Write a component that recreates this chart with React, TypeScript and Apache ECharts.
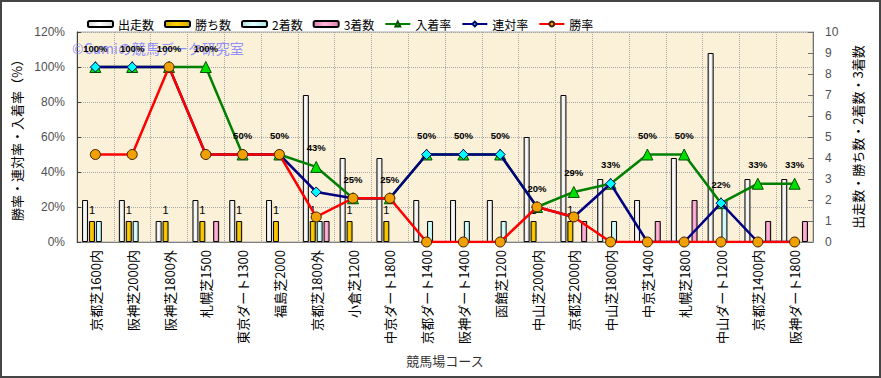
import React, { useEffect, useRef } from "react";
import * as echarts from "echarts";

const categories = [
  "京都芝1600内", "阪神芝2000内", "阪神芝1800外", "札幌芝1500", "東京ダート1300",
  "福島芝2000", "京都芝1800外", "小倉芝1200", "中京ダート1800", "京都ダート1400",
  "阪神ダート1400", "函館芝1200", "中山芝2000内", "京都芝2000内", "中山芝1800内",
  "中京芝1400", "札幌芝1800", "中山ダート1200", "京都芝1400内", "阪神ダート1800",
];

const starts = [2, 2, 1, 2, 2, 2, 7, 4, 4, 2, 2, 2, 5, 7, 3, 2, 4, 9, 3, 3];
const wins = [1, 1, 1, 1, 1, 1, 1, 1, 1, 0, 0, 0, 1, 1, 0, 0, 0, 0, 0, 0];
const seconds = [1, 1, 0, 0, 0, 0, 1, 0, 0, 1, 1, 1, 0, 0, 1, 0, 0, 2, 0, 0];
const thirds = [0, 0, 0, 1, 0, 0, 1, 0, 0, 0, 0, 0, 0, 1, 0, 1, 2, 0, 1, 1];

const placeRate = [100, 100, 100, 100, 50, 50, 42.9, 25, 25, 50, 50, 50, 20, 28.6, 33.3, 50, 50, 22.2, 33.3, 33.3];
const rentaiRate = [100, 100, 100, 50, 50, 50, 28.6, 25, 25, 50, 50, 50, 20, 14.3, 33.3, 0, 0, 22.2, 0, 0];
const winRate = [50, 50, 100, 50, 50, 50, 14.3, 25, 25, 0, 0, 0, 20, 14.3, 0, 0, 0, 0, 0, 0];

const leftTicks = { min: 0, max: 120, interval: 20 };
const rightTicks = { min: 0, max: 10, interval: 1 };

const JP = "'Noto Sans CJK JP', sans-serif";
const NUM = "'Liberation Sans', Arial, sans-serif";

function grad(edge: string, mid: string) {
  return new echarts.graphic.LinearGradient(0, 0, 1, 0, [
    { offset: 0, color: edge },
    { offset: 0.45, color: mid },
    { offset: 1, color: edge },
  ]);
}

const nz = (arr: number[]) => arr.map((v) => (v === 0 ? null : v));

export default function App() {
  const ref = useRef<HTMLDivElement>(null);
  useEffect(() => {
    if (!ref.current) return;
    const chart = echarts.init(ref.current, null, { renderer: "svg" });
    const barBase = {
      type: "bar",
      yAxisIndex: 1,
      barWidth: 6,
      barGap: "15%",
      z: 2,
    };
    chart.setOption({
      animation: false,
      backgroundColor: "#ffffff",
      textStyle: { fontFamily: JP },
      legend: {
        left: 82,
        top: 13,
        itemWidth: 25,
        itemHeight: 6,
        itemGap: 10,
        textStyle: { fontSize: 12, color: "#000", fontFamily: JP },
        data: ["出走数", "勝ち数", "2着数", "3着数", "入着率", "連対率", "勝率"],
      },
      grid: {
        left: 77,
        right: 68,
        top: 32,
        bottom: 136,
        show: true,
        backgroundColor: "#FBF0D8",
        borderColor: "#a8a8a8",
        borderWidth: 1,
      },
      graphic: [
        {
          type: "text",
          left: 72,
          top: 41,
          z: 3,
          style: {
            text: "©Cumiの競馬データ研究室",
            fontSize: 14,
            fontFamily: JP,
            fill: "#8484ff",
            opacity: 0.9,
          },
        },
        {
          type: "rect",
          z: 100,
          shape: { x: 1, y: 1, width: 879, height: 376 },
          style: { fill: "none", stroke: "#454545", lineWidth: 2 },
        },
      ],
      xAxis: {
        type: "category",
        data: categories,
        axisLine: { lineStyle: { color: "#808080" } },
        axisTick: { show: false },
        axisLabel: { rotate: 90, interval: 0, fontSize: 13, color: "#000", margin: 8, fontFamily: JP },
        splitLine: { show: true, interval: 0, lineStyle: { type: "dotted", color: "#a8a8a8" } },
        name: "競馬場コース",
        nameLocation: "middle",
        nameGap: 112,
        nameTextStyle: { fontSize: 13, color: "#333", fontFamily: JP },
      },
      yAxis: [
        {
          type: "value",
          ...leftTicks,
          axisLabel: { formatter: "{value}%", fontFamily: NUM, fontSize: 12, color: "#505050", margin: 12 },
          axisLine: { show: true, lineStyle: { color: "#404040" } },
          axisTick: { show: true, inside: true, length: 4, lineStyle: { color: "#404040" } },
          splitLine: { show: true, lineStyle: { type: "dotted", color: "#a8a8a8" } },
          name: "勝率・連対率・入着率（%）",
          nameLocation: "middle",
          nameGap: 46,
          nameRotate: 90,
          nameTextStyle: { fontSize: 13, color: "#000", fontFamily: JP },
        },
        {
          type: "value",
          position: "right",
          ...rightTicks,
          axisLabel: { fontFamily: NUM, fontSize: 12, color: "#505050", margin: 12 },
          axisLine: { show: true, lineStyle: { color: "#707070" } },
          axisTick: { show: true, inside: true, length: 5, lineStyle: { color: "#707070" } },
          splitLine: { show: false },
          name: "出走数・勝ち数・2着数・3着数",
          nameLocation: "middle",
          nameGap: 38,
          nameRotate: 90,
          nameTextStyle: { fontSize: 13, color: "#000", fontFamily: JP },
        },
      ],
      series: [
        {
          ...barBase,
          name: "出走数",
          data: nz(starts),
          itemStyle: { color: grad("#d4d4d4", "#ffffff"), borderColor: "#000", borderWidth: 1 },
        },
        {
          ...barBase,
          name: "勝ち数",
          data: nz(wins),
          itemStyle: { color: grad("#d8a800", "#ffd000"), borderColor: "#000", borderWidth: 1 },
          label: {
            show: true,
            position: "top",
            distance: 6,
            fontSize: 11,
            color: "#000",
            fontFamily: NUM,
            textBorderWidth: 0,
            formatter: (p: any) => (p.value > 0 ? String(p.value) : ""),
          },
        },
        {
          ...barBase,
          name: "2着数",
          data: nz(seconds),
          itemStyle: { color: grad("#a8e4e4", "#e4ffff"), borderColor: "#000", borderWidth: 1 },
        },
        {
          ...barBase,
          name: "3着数",
          data: nz(thirds),
          itemStyle: { color: grad("#e080b0", "#ffb8dc"), borderColor: "#000", borderWidth: 1 },
        },
        {
          type: "line",
          name: "入着率",
          yAxisIndex: 0,
          data: placeRate,
          z: 4,
          color: "#008000",
          lineStyle: { color: "#008000", width: 2.5 },
          symbol: "triangle",
          symbolSize: 11,
          itemStyle: { color: "#00e000", borderColor: "#005000", borderWidth: 1 },
          label: {
            show: true,
            position: "top",
            distance: 8,
            fontSize: 9.5,
            fontWeight: "bold",
            color: "#000",
            fontFamily: NUM,
            textBorderWidth: 0,
            textBorderColor: "transparent",
            formatter: (p: any) => Math.round(p.value) + "%",
          },
        },
        {
          type: "line",
          name: "連対率",
          yAxisIndex: 0,
          data: rentaiRate,
          z: 5,
          color: "#000080",
          lineStyle: { color: "#000080", width: 2.5 },
          symbol: "diamond",
          symbolSize: 10,
          itemStyle: { color: "#00ffff", borderColor: "#000060", borderWidth: 1 },
        },
        {
          type: "line",
          name: "勝率",
          yAxisIndex: 0,
          data: winRate,
          z: 6,
          color: "#ff0000",
          lineStyle: { color: "#ff0000", width: 2.5 },
          symbol: "circle",
          symbolSize: 10,
          itemStyle: { color: "#f0a000", borderColor: "#402000", borderWidth: 1 },
        },
      ],
    });
    return () => chart.dispose();
  }, []);
  return (
    <div
      ref={ref}
      style={{ position: "fixed", left: 0, top: 0, width: 881, height: 378 }}
    />
  );
}
